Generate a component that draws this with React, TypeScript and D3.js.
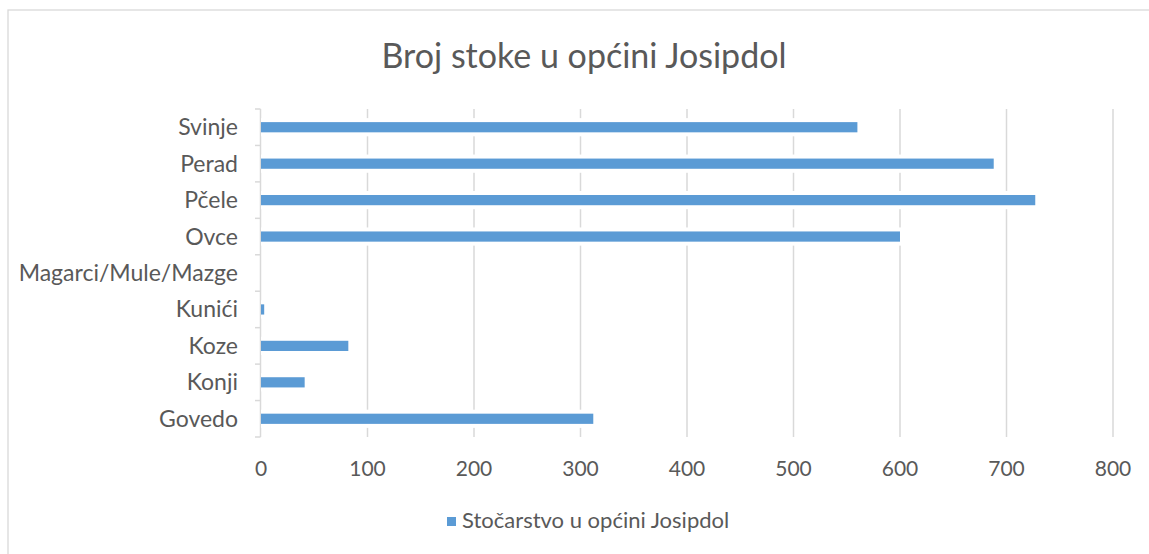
import React, { useEffect, useRef } from "react";
import * as d3 from "d3";

const categories = ["Svinje", "Perad", "Pčele", "Ovce", "Magarci/Mule/Mazge", "Kunići", "Koze", "Konji", "Govedo"];
const values = [560, 688, 727, 600, 0, 3, 82, 41, 312];
const xTicks = [0, 100, 200, 300, 400, 500, 600, 700, 800];
const title = "Broj stoke u općini Josipdol";
const seriesName = "Stočarstvo u općini Josipdol";

const W = 1149;
const H = 554;
const FONT = "Lato, 'Open Sans', sans-serif";
const TEXT = "#595959";
const GRID = "#d9d9d9";
const BLUE = "#5b9bd5";

const App = () => {
  const svgRef = useRef<SVGSVGElement>(null);

  useEffect(() => {
    const svg = d3.select(svgRef.current);
    svg.selectAll("*").remove();

    const x = d3.scaleLinear().domain([0, 800]).range([261, 1113]);
    const y = d3
      .scaleBand<string>()
      .domain(categories)
      .range([109, 437])
      .paddingInner(0.72)
      .paddingOuter(0.36);
    const step = y.step();
    const top = 109;
    const bottom = 437;

    // chart frame
    svg
      .append("rect")
      .attr("x", 8)
      .attr("y", 10)
      .attr("width", W + 20)
      .attr("height", H + 20)
      .attr("fill", "#fff")
      .attr("stroke", GRID)
      .attr("stroke-width", 1.3);

    // gridlines
    svg
      .append("g")
      .selectAll("line")
      .data(xTicks.slice(1))
      .join("line")
      .attr("x1", (d) => x(d))
      .attr("x2", (d) => x(d))
      .attr("y1", top)
      .attr("y2", bottom)
      .attr("stroke", GRID)
      .attr("stroke-width", 1.5);

    // y axis line + ticks
    const ax = svg.append("g");
    ax.append("line")
      .attr("x1", x(0) - 0.5)
      .attr("x2", x(0) - 0.5)
      .attr("y1", top)
      .attr("y2", bottom)
      .attr("stroke", GRID)
      .attr("stroke-width", 1.5);
    ax.selectAll("line.tick")
      .data(d3.range(categories.length + 1))
      .join("line")
      .attr("class", "tick")
      .attr("x1", x(0) - 6)
      .attr("x2", x(0) - 0.5)
      .attr("y1", (i) => top + i * step)
      .attr("y2", (i) => top + i * step)
      .attr("stroke", GRID)
      .attr("stroke-width", 1.5);

    const data = categories.map((c, i) => ({ c, v: values[i] }));

    // white halo behind bars (interrupts gridlines like the original)
    svg
      .append("g")
      .selectAll("rect")
      .data(data.filter((d) => d.v > 0))
      .join("rect")
      .attr("x", x(0))
      .attr("y", (d) => y(d.c)! - 4)
      .attr("width", (d) => x(d.v) - x(0) + 1)
      .attr("height", y.bandwidth() + 8)
      .attr("fill", "#fff");

    svg
      .append("g")
      .selectAll("rect")
      .data(data.filter((d) => d.v > 0))
      .join("rect")
      .attr("x", x(0))
      .attr("y", (d) => y(d.c)!)
      .attr("width", (d) => x(d.v) - x(0))
      .attr("height", y.bandwidth())
      .attr("fill", BLUE);

    // category labels
    svg
      .append("g")
      .selectAll("text")
      .data(categories)
      .join("text")
      .attr("x", 238)
      .attr("y", (d) => y(d)! + y.bandwidth() / 2)
      .attr("dy", "0.35em")
      .attr("text-anchor", "end")
      .attr("font-family", FONT)
      .attr("font-size", 23)
      .attr("fill", TEXT)
      .text((d) => d);

    // x tick labels
    svg
      .append("g")
      .selectAll("text")
      .data(xTicks)
      .join("text")
      .attr("x", (d) => x(d))
      .attr("y", 476)
      .attr("text-anchor", "middle")
      .attr("font-family", FONT)
      .attr("font-size", 21)
      .attr("fill", TEXT)
      .text((d) => d);

    // title
    svg
      .append("text")
      .attr("x", 584)
      .attr("y", 68)
      .attr("text-anchor", "middle")
      .attr("font-family", FONT)
      .attr("font-size", 34)
      .attr("fill", TEXT)
      .text(title);

    // legend
    svg
      .append("rect")
      .attr("x", 447)
      .attr("y", 517)
      .attr("width", 9)
      .attr("height", 9)
      .attr("fill", BLUE);
    svg
      .append("text")
      .attr("x", 462)
      .attr("y", 528)
      .attr("font-family", FONT)
      .attr("font-size", 22)
      .attr("fill", TEXT)
      .text(seriesName);
  }, []);

  return (
    <svg
      ref={svgRef}
      width={W}
      height={H}
      style={{ position: "absolute", left: 0, top: 0 }}
    />
  );
};

export default App;
